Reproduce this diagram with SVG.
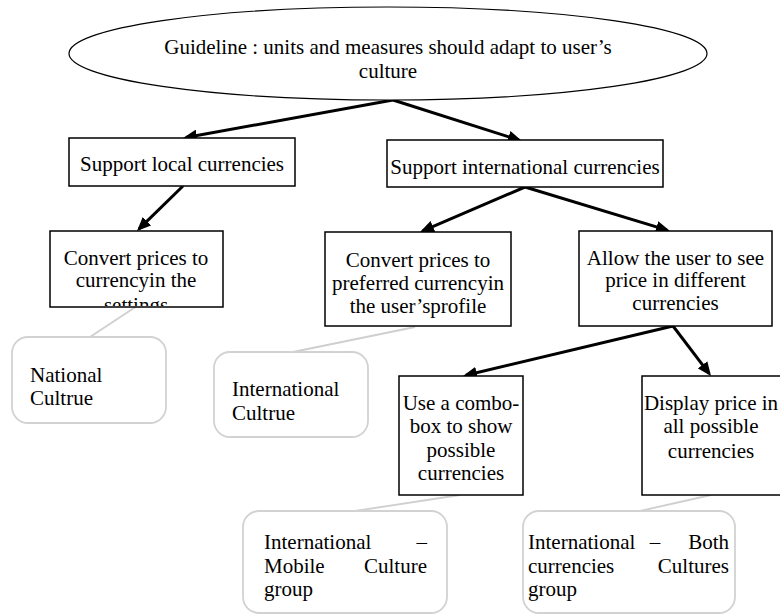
<svg xmlns="http://www.w3.org/2000/svg" width="780" height="615" viewBox="0 0 780 615">
  <style>
    text { font-family: "Liberation Serif", "Times New Roman", serif; font-size: 21px; fill: #000; }
    .c { text-anchor: middle; }
    .box { fill: #fff; stroke: #000; stroke-width: 1.5; }
    .note { fill: #fff; stroke: #d2d2d2; stroke-width: 1.8; }
    .arrow { fill: none; stroke: #000; stroke-width: 3; marker-end: url(#ah); }
    .link { fill: none; stroke: #cfcfcf; stroke-width: 1.8; }
  </style>
  <defs>
    <marker id="ah" markerUnits="userSpaceOnUse" markerWidth="14" markerHeight="12" refX="11" refY="6" orient="auto">
      <path d="M0,0 L14,6 L0,12 Z" fill="#000"/>
    </marker>
    <clipPath id="clipLocal">
      <rect x="51" y="232" width="171" height="74"/>
    </clipPath>
  </defs>
  <rect width="780" height="615" fill="#fff"/>

  <g id="connectors">
    <path class="arrow" d="M393,100 L186,137.5"/>
    <path class="arrow" d="M393,100 L519.1,140.1"/>
    <path class="arrow" d="M183,186 L139.1,228.9"/>
    <path class="arrow" d="M525,187 L422.8,230.8"/>
    <path class="arrow" d="M525,187 L667.1,230.1"/>
    <path class="arrow" d="M673,326 L465.9,375.3"/>
    <path class="arrow" d="M673,326 L709.2,373.6"/>
    <path class="link" d="M137,306 L90,337"/>
    <path class="link" d="M415,327 L293,352"/>
    <path class="link" d="M460,495 L355,511"/>
    <path class="link" d="M711,495 L640,511"/>
  </g>

  <g id="guideline">
    <ellipse cx="388" cy="53.5" rx="319" ry="46.5" fill="#fff" stroke="#000" stroke-width="1.2"/>
    <text class="c" x="388" y="54">Guideline : units and measures should adapt to user’s</text>
    <text class="c" x="388" y="78">culture</text>
  </g>

  <g id="support-local">
    <rect class="box" x="69" y="138" width="226" height="48"/>
    <text class="c" x="182" y="171">Support local currencies</text>
  </g>

  <g id="support-international">
    <rect class="box" x="387" y="140" width="276" height="47"/>
    <text class="c" x="525" y="174">Support international currencies</text>
  </g>

  <g id="convert-settings">
    <rect class="box" x="50" y="231" width="173" height="76"/>
    <g clip-path="url(#clipLocal)">
      <text class="c" x="136" y="265">Convert prices to</text>
      <text class="c" x="136" y="287">currencyin the</text>
      <text class="c" x="136" y="312">settings</text>
    </g>
  </g>

  <g id="convert-profile">
    <rect class="box" x="325" y="232" width="186" height="94"/>
    <text class="c" x="418" y="267">Convert prices to</text>
    <text class="c" x="418" y="290">preferred currencyin</text>
    <text class="c" x="418" y="313">the user’sprofile</text>
  </g>

  <g id="allow-user">
    <rect class="box" x="579" y="231" width="193" height="95"/>
    <text class="c" x="675.5" y="265">Allow the user to see</text>
    <text class="c" x="675.5" y="287">price in different</text>
    <text class="c" x="675.5" y="310">currencies</text>
  </g>

  <g id="combo-box">
    <rect class="box" x="399" y="376" width="124" height="119"/>
    <text class="c" x="461" y="410">Use a combo-</text>
    <text class="c" x="461" y="433">box to show</text>
    <text class="c" x="461" y="457">possible</text>
    <text class="c" x="461" y="480">currencies</text>
  </g>

  <g id="display-all">
    <rect class="box" x="642" y="376" width="145" height="119"/>
    <text class="c" x="711" y="410">Display price in</text>
    <text class="c" x="711" y="433">all possible</text>
    <text class="c" x="711" y="458">currencies</text>
  </g>

  <g id="national-culture">
    <rect class="note" x="12" y="337" width="154" height="86" rx="16" ry="16"/>
    <text x="30" y="382">National</text>
    <text x="30" y="405">Cultrue</text>
  </g>

  <g id="international-culture">
    <rect class="note" x="214" y="352" width="154" height="85" rx="16" ry="16"/>
    <text x="232" y="396">International</text>
    <text x="232" y="420">Cultrue</text>
  </g>

  <g id="mobile-culture">
    <rect class="note" x="243" y="511" width="204" height="102" rx="16" ry="16"/>
    <text y="549"><tspan x="264">International</tspan><tspan x="427" text-anchor="end">–</tspan></text>
    <text y="573"><tspan x="264">Mobile</tspan><tspan x="427" text-anchor="end">Culture</tspan></text>
    <text x="264" y="596">group</text>
  </g>

  <g id="both-cultures">
    <rect class="note" x="523" y="511" width="212" height="102" rx="16" ry="16"/>
    <text y="549"><tspan x="528">International</tspan><tspan x="655" text-anchor="middle">–</tspan><tspan x="729" text-anchor="end">Both</tspan></text>
    <text y="573"><tspan x="528">currencies</tspan><tspan x="729" text-anchor="end">Cultures</tspan></text>
    <text x="528" y="596">group</text>
  </g>
</svg>
